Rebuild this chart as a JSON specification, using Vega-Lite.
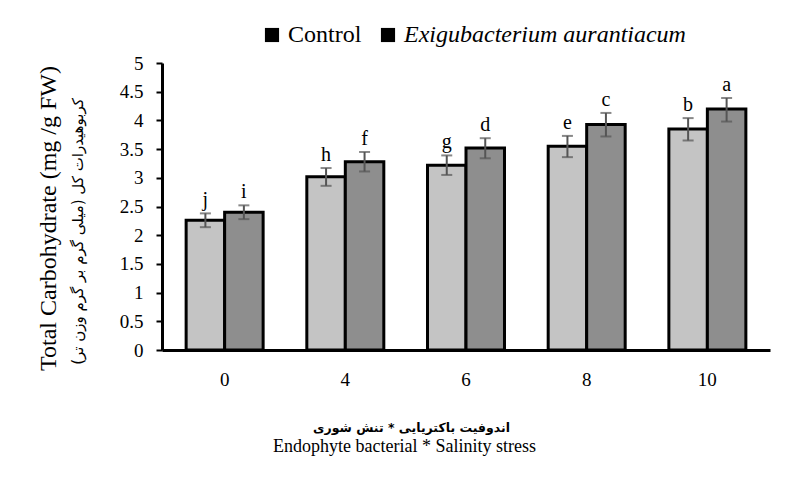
{
  "$schema": "https://vega.github.io/schema/vega-lite/v6.json",
  "autosize": {"type": "none"},
  "width": 608,
  "height": 287,
  "padding": {"left": 162, "top": 63, "right": 39, "bottom": 138},
  "background": "white",
  "config": {
    "view": {"stroke": null},
    "font": "Liberation Serif",
    "axis": {"grid": false, "labelFont": "Liberation Serif", "titleFont": "Liberation Serif", "titleFontWeight": "normal", "labelColor": "black", "titleColor": "black"},
    "legend": {"labelFont": "Liberation Serif", "labelFontSize": 24, "labelColor": "black", "labelLimit": 0}
  },
  "data": {
    "values": [
      {"salinity": "0", "treatment": "Control", "value": 2.26, "lo": 2.14, "hi": 2.38, "letter": "j"},
      {"salinity": "0", "treatment": "Exigubacterium aurantiacum", "value": 2.4, "lo": 2.28, "hi": 2.52, "letter": "i"},
      {"salinity": "4", "treatment": "Control", "value": 3.02, "lo": 2.86, "hi": 3.17, "letter": "h"},
      {"salinity": "4", "treatment": "Exigubacterium aurantiacum", "value": 3.28, "lo": 3.11, "hi": 3.45, "letter": "f"},
      {"salinity": "6", "treatment": "Control", "value": 3.22, "lo": 3.05, "hi": 3.39, "letter": "g"},
      {"salinity": "6", "treatment": "Exigubacterium aurantiacum", "value": 3.52, "lo": 3.34, "hi": 3.69, "letter": "d"},
      {"salinity": "8", "treatment": "Control", "value": 3.55, "lo": 3.36, "hi": 3.73, "letter": "e"},
      {"salinity": "8", "treatment": "Exigubacterium aurantiacum", "value": 3.93, "lo": 3.72, "hi": 4.13, "letter": "c"},
      {"salinity": "10", "treatment": "Control", "value": 3.85, "lo": 3.65, "hi": 4.04, "letter": "b"},
      {"salinity": "10", "treatment": "Exigubacterium aurantiacum", "value": 4.2, "lo": 3.98, "hi": 4.39, "letter": "a"}
    ]
  },
  "resolve": {"scale": {"y": "independent"}, "axis": {"y": "independent", "x": "independent"}},
  "layer": [
    {
      "mark": {"type": "point", "shape": "square", "filled": true, "color": "black", "size": 16},
      "encoding": {
        "x": {"field": "salinity", "type": "ordinal", "sort": ["0", "4", "6", "8", "10"], "axis": null},
        "xOffset": {"field": "treatment", "type": "nominal", "sort": ["Control", "Exigubacterium aurantiacum"]},
        "y": {"field": "lo", "type": "quantitative", "scale": {"domain": [0, 5], "nice": false}, "axis": null},
        "opacity": {"field": "treatment", "type": "ordinal", "sort": ["Control", "Exigubacterium aurantiacum"], "scale": {"range": [1, 1]},
          "legend": {"orient": "none", "legendX": 98, "legendY": -40, "direction": "horizontal", "title": null, "labelFontSize": 24, "labelFont": "Liberation Serif", "labelLimit": 0, "symbolType": "square", "symbolSize": 200, "symbolFillColor": "black", "symbolStrokeWidth": 0, "labelOffset": 4, "columnPadding": 14,
            "encoding": {"labels": {"fontStyle": {"condition": {"test": "datum.label == 'Control'", "value": "normal"}, "value": "italic"}}},
            "encode": {"labels": {"fontStyle": {"condition": {"test": "datum.label == 'Control'", "value": "normal"}, "value": "italic"}}}}}
      }
    },
    {
      "mark": {"type": "bar", "stroke": "black", "strokeWidth": 3},
      "encoding": {
        "x": {"field": "salinity", "type": "ordinal", "sort": ["0", "4", "6", "8", "10"],
          "scale": {"paddingInner": 0.362, "paddingOuter": 0.2},
          "axis": {"orient": "bottom", "title": "اندوفیت باکتریایی * تنش شوری", "titleFont": "DejaVu Sans", "titleFontSize": 12.5, "titleFontWeight": "bold", "titlePadding": 32, "titleX": 249, "labelAngle": 0, "labelFontSize": 19, "labelPadding": 20, "ticks": false, "domainColor": "black", "domainWidth": 3}},
        "xOffset": {"field": "treatment", "type": "nominal", "sort": ["Control", "Exigubacterium aurantiacum"], "scale": {"paddingInner": 0, "paddingOuter": 0}},
        "y": {"field": "value", "type": "quantitative", "scale": {"domain": [0, 5], "nice": false},
          "axis": {"title": "کربوهیدرات کل (میلی گرم بر گرم وزن تر)", "titleFont": "DejaVu Sans", "titleFontSize": 15, "titlePadding": 34, "titleY": 168, "values": [0, 0.5, 1, 1.5, 2, 2.5, 3, 3.5, 4, 4.5, 5], "format": "~g", "labelFontSize": 19, "labelPadding": 13, "tickColor": "black", "tickWidth": 2, "tickSize": 6, "domainColor": "black", "domainWidth": 3}},
        "fill": {"field": "treatment", "type": "nominal", "sort": ["Control", "Exigubacterium aurantiacum"],
          "scale": {"range": ["#c4c4c4", "#8e8e8e"]}, "legend": null}
      }
    },
    {
      "mark": {"type": "rule", "color": "#555555", "strokeWidth": 2},
      "encoding": {
        "x": {"field": "salinity", "type": "ordinal", "sort": ["0", "4", "6", "8", "10"],
          "axis": {"orient": "bottom", "title": "Endophyte bacterial * Salinity  stress", "titleFontSize": 18, "titlePadding": 87, "titleX": 242, "labels": false, "ticks": false, "domain": false}},
        "xOffset": {"field": "treatment", "type": "nominal", "sort": ["Control", "Exigubacterium aurantiacum"]},
        "y": {"field": "lo", "type": "quantitative", "scale": {"domain": [0, 5], "nice": false},
          "axis": {"orient": "left", "title": "Total Carbohydrate (mg /g FW)", "titleFontSize": 24, "titlePadding": 102, "titleY": 155, "labels": false, "ticks": false, "domain": false}},
        "y2": {"field": "hi"}
      }
    },
    {
      "mark": {"type": "tick", "color": "#555555", "thickness": 2, "size": 11},
      "encoding": {
        "x": {"field": "salinity", "type": "ordinal", "sort": ["0", "4", "6", "8", "10"], "axis": null},
        "xOffset": {"field": "treatment", "type": "nominal", "sort": ["Control", "Exigubacterium aurantiacum"]},
        "y": {"field": "hi", "type": "quantitative", "scale": {"domain": [0, 5], "nice": false}, "axis": null}
      }
    },
    {
      "mark": {"type": "tick", "color": "#555555", "thickness": 2, "size": 11},
      "encoding": {
        "x": {"field": "salinity", "type": "ordinal", "sort": ["0", "4", "6", "8", "10"], "axis": null},
        "xOffset": {"field": "treatment", "type": "nominal", "sort": ["Control", "Exigubacterium aurantiacum"]},
        "y": {"field": "lo", "type": "quantitative", "scale": {"domain": [0, 5], "nice": false}, "axis": null}
      }
    },
    {
      "mark": {"type": "text", "font": "Liberation Serif", "fontSize": 20, "baseline": "bottom", "dy": -3, "color": "black"},
      "encoding": {
        "x": {"field": "salinity", "type": "ordinal", "sort": ["0", "4", "6", "8", "10"], "axis": null},
        "xOffset": {"field": "treatment", "type": "nominal", "sort": ["Control", "Exigubacterium aurantiacum"]},
        "y": {"field": "hi", "type": "quantitative", "scale": {"domain": [0, 5], "nice": false}, "axis": null},
        "text": {"field": "letter"}
      }
    }
  ]
}
